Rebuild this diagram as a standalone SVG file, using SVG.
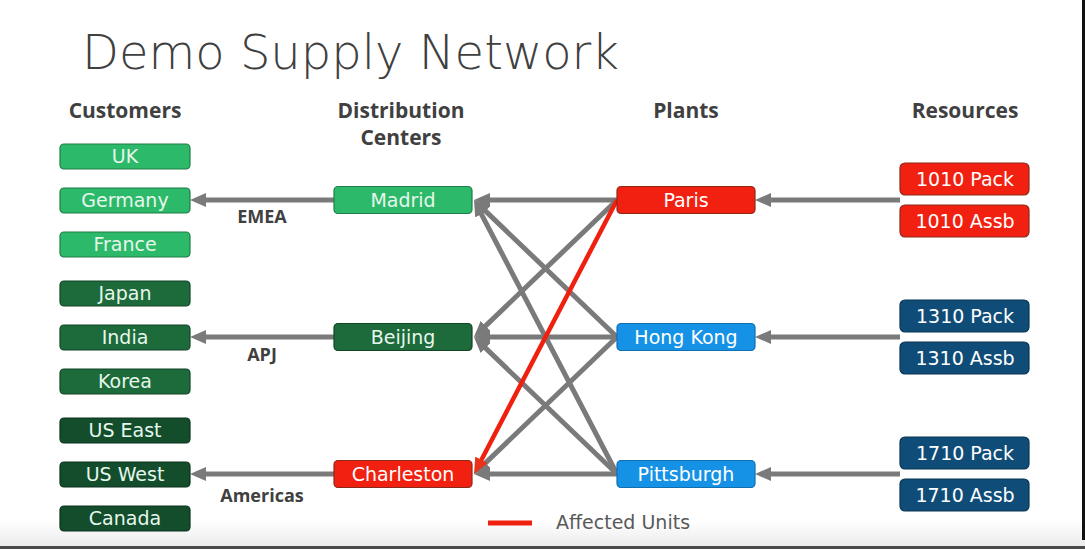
<svg xmlns="http://www.w3.org/2000/svg" width="1085" height="549" viewBox="0 0 1085 549">
  <defs>
    <marker id="ag" markerUnits="userSpaceOnUse" markerWidth="16" markerHeight="14" refX="10" refY="7" orient="auto">
      <path d="M0,0 L16,7 L0,14 z" fill="#7a7a7a"/>
    </marker>
    <marker id="ar" markerUnits="userSpaceOnUse" markerWidth="16" markerHeight="14" refX="10" refY="7" orient="auto">
      <path d="M0,0 L16,7 L0,14 z" fill="#e8321e"/>
    </marker>
    <linearGradient id="bottomfade" x1="0" y1="0" x2="0" y2="1">
      <stop offset="0" stop-color="#ffffff"/>
      <stop offset="1" stop-color="#ececec"/>
    </linearGradient>
    <style>
      .title{font-family:"DejaVu Sans",sans-serif;font-weight:200;font-size:48px;fill:#404040}
      .hdr{font-family:"Open Sans","Liberation Sans",sans-serif;font-weight:700;font-size:21px;fill:#404040;text-anchor:middle}
      .reg{font-family:"Open Sans","Liberation Sans",sans-serif;font-weight:700;font-size:18px;fill:#404040;text-anchor:middle}
      .lbl{font-family:"DejaVu Sans",sans-serif;font-size:19px;fill:#ffffff;text-anchor:middle}
      .lg{fill:#e6f7ec}
      .legend{font-family:"DejaVu Sans",sans-serif;font-size:19px;fill:#595959}
      .c1{fill:#2db96a;stroke:#1d7e46;stroke-width:1.2}
      .c2{fill:#1d6a3b;stroke:#124526;stroke-width:1.2}
      .c3{fill:#134d2c;stroke:#0b331c;stroke-width:1.2}
      .red{fill:#f22010;stroke:#8a2a1a;stroke-width:1.2}
      .blue{fill:#1592e6;stroke:#0f6fb0;stroke-width:1.2}
      .navy{fill:#0f4d78;stroke:#0a3452;stroke-width:1.2}
      .g{stroke:#7a7a7a;stroke-width:5;fill:none;marker-end:url(#ag)}
      .r{stroke:#f0200f;stroke-width:4.5;fill:none;marker-end:url(#ar)}
    </style>
  </defs>

  <rect x="0" y="0" width="1085" height="549" fill="#ffffff"/>
  <rect x="0" y="520" width="1085" height="26" fill="url(#bottomfade)"/>
  <rect x="0" y="546" width="1085" height="3" fill="#4a4a4a"/>
  <rect x="1082" y="0" width="3" height="540" fill="#111111"/>

  <text class="title" x="82" y="69">Demo Supply Network</text>

  <g id="headers">
    <text class="hdr" x="125" y="118">Customers</text>
    <text class="hdr" x="401" y="118">Distribution</text>
    <text class="hdr" x="401" y="145">Centers</text>
    <text class="hdr" x="686" y="118">Plants</text>
    <text class="hdr" x="965" y="118">Resources</text>
  </g>

  <g id="connectors">
    <line class="g" x1="900" y1="200" x2="761" y2="200"/>
    <line class="g" x1="900" y1="337" x2="761" y2="337"/>
    <line class="g" x1="900" y1="474" x2="761" y2="474"/>
    <line class="g" x1="617" y1="200" x2="480" y2="200"/>
    <line class="g" x1="617" y1="200" x2="478.3" y2="332.85"/>
    <line class="g" x1="617" y1="337" x2="478.3" y2="204.15"/>
    <line class="g" x1="617" y1="337" x2="480" y2="337"/>
    <line class="g" x1="617" y1="337" x2="478.3" y2="469.85"/>
    <line class="g" x1="617" y1="474" x2="476.8" y2="205.32"/>
    <line class="g" x1="617" y1="474" x2="478.3" y2="341.15"/>
    <line class="g" x1="617" y1="474" x2="480" y2="474"/>
    <line class="r" x1="617" y1="200" x2="476.8" y2="468.68"/>
    <line class="g" x1="334" y1="200" x2="196" y2="200"/>
    <line class="g" x1="334" y1="337" x2="196" y2="337"/>
    <line class="g" x1="334" y1="474" x2="196" y2="474"/>
  </g>

  <g id="region-labels">
    <text class="reg" x="262" y="223">EMEA</text>
    <text class="reg" x="262" y="361">APJ</text>
    <text class="reg" x="262" y="502">Americas</text>
  </g>

  <g id="customers">
    <g id="n-uk"><rect class="c1" x="60" y="144" width="130" height="25" rx="4"/><text class="lbl lg" x="125" y="163">UK</text></g>
    <g id="n-germany"><rect class="c1" x="60" y="188" width="130" height="25" rx="4"/><text class="lbl lg" x="125" y="207">Germany</text></g>
    <g id="n-france"><rect class="c1" x="60" y="232" width="130" height="25" rx="4"/><text class="lbl lg" x="125" y="251">France</text></g>
    <g id="n-japan"><rect class="c2" x="60" y="281" width="130" height="25" rx="4"/><text class="lbl lg" x="125" y="300">Japan</text></g>
    <g id="n-india"><rect class="c2" x="60" y="325" width="130" height="25" rx="4"/><text class="lbl lg" x="125" y="344">India</text></g>
    <g id="n-korea"><rect class="c2" x="60" y="369" width="130" height="25" rx="4"/><text class="lbl lg" x="125" y="388">Korea</text></g>
    <g id="n-useast"><rect class="c3" x="60" y="418" width="130" height="25" rx="4"/><text class="lbl lg" x="125" y="437">US East</text></g>
    <g id="n-uswest"><rect class="c3" x="60" y="462" width="130" height="25" rx="4"/><text class="lbl lg" x="125" y="481">US West</text></g>
    <g id="n-canada"><rect class="c3" x="60" y="506" width="130" height="25" rx="4"/><text class="lbl lg" x="125" y="525">Canada</text></g>
  </g>

  <g id="dcs">
    <g id="n-madrid"><rect class="c1" x="334" y="186.5" width="138" height="27" rx="4"/><text class="lbl lg" x="403" y="207">Madrid</text></g>
    <g id="n-beijing"><rect class="c2" x="334" y="323.5" width="138" height="27" rx="4"/><text class="lbl lg" x="403" y="344">Beijing</text></g>
    <g id="n-charleston"><rect class="red" x="334" y="460.5" width="138" height="27" rx="4"/><text class="lbl" x="403" y="481">Charleston</text></g>
  </g>

  <g id="plants">
    <g id="n-paris"><rect class="red" x="617" y="186.5" width="138" height="27" rx="4"/><text class="lbl" x="686" y="207">Paris</text></g>
    <g id="n-hongkong"><rect class="blue" x="617" y="323.5" width="138" height="27" rx="4"/><text class="lbl" x="686" y="344">Hong Kong</text></g>
    <g id="n-pittsburgh"><rect class="blue" x="617" y="460.5" width="138" height="27" rx="4"/><text class="lbl" x="686" y="481">Pittsburgh</text></g>
  </g>

  <g id="resources">
    <g id="n-1010pack"><rect class="red" x="900" y="163" width="129" height="32" rx="5"/><text class="lbl" x="965" y="186">1010 Pack</text></g>
    <g id="n-1010assb"><rect class="red" x="900" y="205" width="129" height="32" rx="5"/><text class="lbl" x="965" y="228">1010 Assb</text></g>
    <g id="n-1310pack"><rect class="navy" x="900" y="300" width="129" height="32" rx="5"/><text class="lbl" x="965" y="323">1310 Pack</text></g>
    <g id="n-1310assb"><rect class="navy" x="900" y="342" width="129" height="32" rx="5"/><text class="lbl" x="965" y="365">1310 Assb</text></g>
    <g id="n-1710pack"><rect class="navy" x="900" y="437" width="129" height="32" rx="5"/><text class="lbl" x="965" y="460">1710 Pack</text></g>
    <g id="n-1710assb"><rect class="navy" x="900" y="479" width="129" height="32" rx="5"/><text class="lbl" x="965" y="502">1710 Assb</text></g>
  </g>

  <g id="legend">
    <line x1="488" y1="523" x2="532" y2="523" stroke="#f0200f" stroke-width="5"/>
    <text class="legend" x="556" y="529">Affected Units</text>
  </g>
</svg>
